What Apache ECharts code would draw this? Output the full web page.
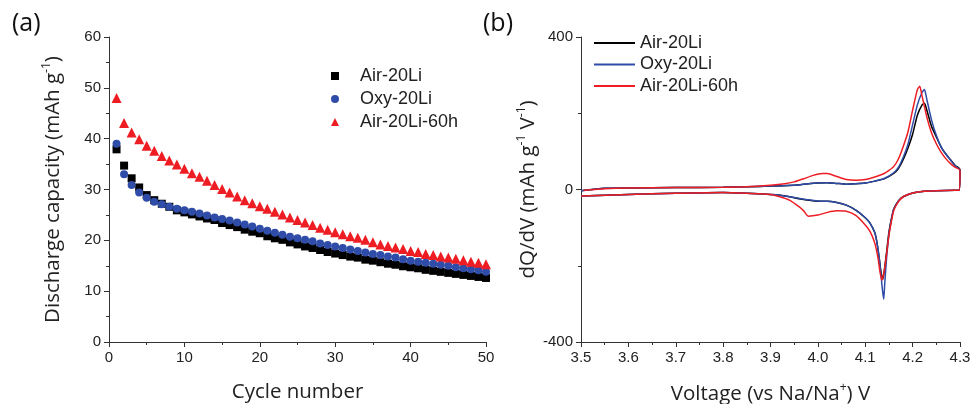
<!DOCTYPE html>
<html>
<head>
<meta charset="utf-8">
<script src="https://cdn.jsdelivr.net/npm/echarts@6/dist/echarts.min.js"></script>
<style>
  html, body { margin: 0; padding: 0; background: #fff; }
  #chart { width: 974px; height: 404px; }
</style>
</head>
<body>
<div id="chart"></div>
<script>
// (a) discharge capacity per cycle
const cycles = Array.from({ length: 50 }, (_, i) => i + 1)
const airCap = [37.9, 34.7, 32.2, 30.4, 28.9, 27.9, 27.2, 26.6, 25.9, 25.5,
  25.1, 24.7, 24.3, 24.0, 23.4, 23.0, 22.6, 22.1, 21.7, 21.4,
  20.8, 20.4, 20.1, 19.6, 19.2, 18.8, 18.5, 18.1, 17.7, 17.4,
  17.1, 16.8, 16.6, 16.2, 16.0, 15.7, 15.4, 15.2, 14.9, 14.7,
  14.5, 14.2, 14.0, 13.8, 13.6, 13.4, 13.2, 13.0, 12.8, 12.6]
const oxyCap = [39.0, 33.0, 30.9, 29.4, 28.4, 27.6, 27.1, 26.6, 26.2, 25.9,
  25.6, 25.3, 24.9, 24.5, 24.2, 23.9, 23.5, 23.1, 22.7, 22.3,
  21.9, 21.5, 21.1, 20.7, 20.4, 20.1, 19.8, 19.4, 19.1, 18.8,
  18.5, 18.2, 17.9, 17.6, 17.3, 17.1, 16.8, 16.6, 16.3, 16.0,
  15.8, 15.6, 15.4, 15.2, 15.0, 14.7, 14.5, 14.3, 14.1, 13.8]
const air60Cap = [48.0, 43.1, 41.2, 39.9, 38.6, 37.6, 36.6, 35.7, 34.9, 34.1,
  33.2, 32.5, 31.7, 30.9, 30.1, 29.4, 28.6, 27.9, 27.3, 26.7,
  26.2, 25.6, 25.1, 24.5, 24.0, 23.5, 23.0, 22.5, 22.1, 21.6,
  21.2, 20.8, 20.5, 20.1, 19.6, 19.2, 18.9, 18.6, 18.3, 17.9,
  17.7, 17.3, 17.1, 16.8, 16.6, 16.4, 16.1, 15.8, 15.6, 15.3]

// (b) dQ/dV loops: charge branch 3.5 -> 4.3, then discharge 4.3 -> 3.5
const airV = [3.50, 3.55, 3.60, 3.70, 3.80, 3.85, 3.90, 3.95, 3.98, 4.00, 4.02, 4.04, 4.06, 4.08, 4.10, 4.12, 4.14, 4.16, 4.17, 4.18, 4.19, 4.20, 4.21, 4.22, 4.225, 4.23, 4.24, 4.25, 4.26, 4.27, 4.28, 4.29, 4.30,
  4.298, 4.29, 4.25, 4.22, 4.20, 4.18, 4.17, 4.16, 4.155, 4.15, 4.145, 4.14, 4.137, 4.133, 4.13, 4.125, 4.12, 4.11, 4.10, 4.08, 4.06, 4.04, 4.02, 4.00, 3.98, 3.96, 3.94, 3.92, 3.90, 3.85, 3.80, 3.70, 3.60, 3.50]
const airQ = [-3, 3, 4, 5, 6, 7, 9, 11, 15, 17, 18, 16, 14, 15, 17, 22, 28, 42, 55, 78, 108, 145, 195, 222, 226, 208, 165, 138, 112, 93, 78, 63, 52,
  -2, -2, -3, -5, -9, -19, -30, -52, -78, -112, -165, -215, -236, -215, -185, -141, -113, -88, -74, -54, -41, -34, -31, -31, -28, -24, -19, -15, -13, -10, -8, -10, -13, -17]
const oxyV = [3.50, 3.55, 3.60, 3.70, 3.80, 3.85, 3.90, 3.95, 3.98, 4.00, 4.02, 4.04, 4.06, 4.08, 4.10, 4.12, 4.14, 4.16, 4.17, 4.18, 4.19, 4.20, 4.21, 4.22, 4.225, 4.23, 4.24, 4.25, 4.26, 4.27, 4.28, 4.29, 4.30,
  4.298, 4.29, 4.25, 4.22, 4.20, 4.18, 4.17, 4.16, 4.155, 4.15, 4.145, 4.141, 4.139, 4.136, 4.133, 4.13, 4.125, 4.12, 4.11, 4.10, 4.08, 4.06, 4.04, 4.02, 4.00, 3.98, 3.96, 3.94, 3.92, 3.90, 3.85, 3.80, 3.70, 3.60, 3.50]
const oxyQ = [-3, 3, 4, 5, 6, 7, 9, 11, 15, 17, 18, 16, 14, 15, 17, 22, 29, 44, 58, 84, 118, 170, 222, 255, 262, 236, 182, 142, 112, 93, 77, 62, 50,
  -2, -2, -3, -5, -9, -19, -30, -52, -80, -118, -180, -250, -288, -260, -220, -185, -141, -113, -88, -74, -54, -41, -34, -31, -30, -27, -23, -19, -15, -13, -10, -8, -10, -13, -17]
const air60V = [3.505, 3.55, 3.60, 3.70, 3.80, 3.85, 3.90, 3.93, 3.95, 3.97, 3.99, 4.01, 4.02, 4.04, 4.06, 4.08, 4.10, 4.12, 4.14, 4.15, 4.16, 4.17, 4.18, 4.19, 4.20, 4.21, 4.215, 4.22, 4.23, 4.24, 4.25, 4.26, 4.27, 4.28, 4.29, 4.30,
  4.298, 4.29, 4.25, 4.22, 4.20, 4.18, 4.17, 4.16, 4.155, 4.15, 4.145, 4.14, 4.135, 4.131, 4.127, 4.12, 4.11, 4.10, 4.08, 4.06, 4.04, 4.02, 4.00, 3.98, 3.97, 3.96, 3.94, 3.92, 3.90, 3.85, 3.80, 3.70, 3.60, 3.50]
const air60Q = [-2, 2, 4, 5, 6, 7, 11, 15, 20, 28, 37, 42, 42, 34, 26, 24, 26, 33, 42, 50, 60, 80, 112, 150, 208, 262, 271, 245, 190, 148, 120, 98, 81, 68, 58, 51,
  -2, -2, -3, -5, -9, -19, -32, -56, -85, -120, -170, -215, -238, -215, -180, -140, -110, -93, -68, -57, -56, -60, -67, -70, -56, -45, -28, -19, -13, -10, -8, -10, -13, -17]

const names = ['Air-20Li', 'Oxy-20Li', 'Air-20Li-60h']
const colors = ['#000000', '#2e4ca8', '#ee1d23']

const FONT = 'Open Sans'
const NUMFONT = 'Liberation Sans'
const zip = (xs, ys) => xs.map((x, i) => [x, ys[i]])

const chart = echarts.init(document.getElementById('chart'))

const axisCommon = {
  axisLine: { show: true, onZero: false, lineStyle: { color: '#333', width: 1 } },
  axisTick: { show: true, length: 5, lineStyle: { color: '#333' } },
  minorTick: { show: true, splitNumber: 2, length: 3, lineStyle: { color: '#333' } },
  splitLine: { show: false },
  axisLabel: { color: '#222', fontSize: 15, fontFamily: NUMFONT, margin: 8 },
  nameLocation: 'middle'
}

// axis titles with superscripts
const nameRich = {
  n: { fontSize: 20.5, fontFamily: FONT, color: '#222', lineHeight: 24, verticalAlign: 'bottom' },
  s: { fontSize: 12, fontFamily: FONT, color: '#222', lineHeight: 24, verticalAlign: 'top', padding: [1, 0, 0, 0] }
}

const legendText = { fontSize: 18, fontFamily: NUMFONT, color: '#222', lineHeight: 18 }

const option = {
  animation: false,
  backgroundColor: '#fff',
  title: [
    { text: '(a)', left: 7, top: 6, textStyle: { fontSize: 25, fontWeight: 'normal', fontFamily: FONT, color: '#111' } },
    { text: '(b)', left: 478, top: 6, textStyle: { fontSize: 25, fontWeight: 'normal', fontFamily: FONT, color: '#111' } }
  ],
  legend: [
    {
      data: names.map(n => ({ name: n })),
      orient: 'vertical',
      left: 326,
      top: 62,
      itemWidth: 8,
      itemHeight: 8,
      itemGap: 5,
      textStyle: { ...legendText, padding: [0, 0, 0, 16] },
      selectedMode: false
    },
    {
      data: names.map(n => ({ name: n + ' ', icon: 'rect' })),
      orient: 'vertical',
      left: 589,
      top: 29,
      itemWidth: 41,
      itemHeight: 2,
      itemGap: 3.5,
      textStyle: legendText,
      selectedMode: false
    }
  ],
  grid: [
    { left: 109, top: 37, width: 377, height: 305, outerBoundsMode: 'none' },
    { left: 581, top: 37, width: 379, height: 305, outerBoundsMode: 'none' }
  ],
  xAxis: [
    {
      ...axisCommon,
      gridIndex: 0,
      type: 'value',
      min: 0,
      max: 50,
      interval: 10,
      name: '{n|Cycle number}',
      nameGap: 37,
      nameTextStyle: { rich: nameRich }
    },
    {
      ...axisCommon,
      gridIndex: 1,
      type: 'value',
      min: 3.5,
      max: 4.3,
      interval: 0.1,
      axisLabel: { ...axisCommon.axisLabel, formatter: v => v.toFixed(1) },
      name: '{n|Voltage (vs Na/Na}{s|+}{n|) V}',
      nameGap: 39,
      nameTextStyle: { rich: nameRich }
    }
  ],
  yAxis: [
    {
      ...axisCommon,
      gridIndex: 0,
      type: 'value',
      min: 0,
      max: 60,
      interval: 10,
      name: '{n|Discharge capacity (mAh g}{s|-1}{n|)}',
      nameGap: 45,
      nameTextStyle: { rich: nameRich }
    },
    {
      ...axisCommon,
      gridIndex: 1,
      type: 'value',
      min: -400,
      max: 400,
      interval: 400,
      name: '{n|dQ/dV (mAh g}{s|-1}{n| V}{s|-1}{n|)}',
      nameGap: 36,
      nameTextStyle: { rich: nameRich }
    }
  ],
  series: [
    { name: names[0], type: 'scatter', xAxisIndex: 0, yAxisIndex: 0, symbol: 'rect', symbolSize: 8, itemStyle: { color: colors[0], opacity: 1 }, data: zip(cycles, airCap) },
    { name: names[1], type: 'scatter', xAxisIndex: 0, yAxisIndex: 0, symbol: 'circle', symbolSize: 8, itemStyle: { color: colors[1], opacity: 1 }, data: zip(cycles, oxyCap) },
    { name: names[2], type: 'scatter', xAxisIndex: 0, yAxisIndex: 0, symbol: 'triangle', symbolSize: 10, itemStyle: { color: colors[2], opacity: 1 }, data: zip(cycles, air60Cap) },
    { name: names[0] + ' ', type: 'line', xAxisIndex: 1, yAxisIndex: 1, symbol: 'none', smooth: 0.2, lineStyle: { color: colors[0], width: 1.5 }, itemStyle: { color: colors[0] }, data: zip(airV, airQ) },
    { name: names[1] + ' ', type: 'line', xAxisIndex: 1, yAxisIndex: 1, symbol: 'none', smooth: 0.2, lineStyle: { color: colors[1], width: 1.5 }, itemStyle: { color: colors[1] }, data: zip(oxyV, oxyQ) },
    { name: names[2] + ' ', type: 'line', xAxisIndex: 1, yAxisIndex: 1, symbol: 'none', smooth: 0.2, lineStyle: { color: colors[2], width: 1.5 }, itemStyle: { color: colors[2] }, data: zip(air60V, air60Q) }
  ]
}

chart.setOption(option)
</script>
</body>
</html>
